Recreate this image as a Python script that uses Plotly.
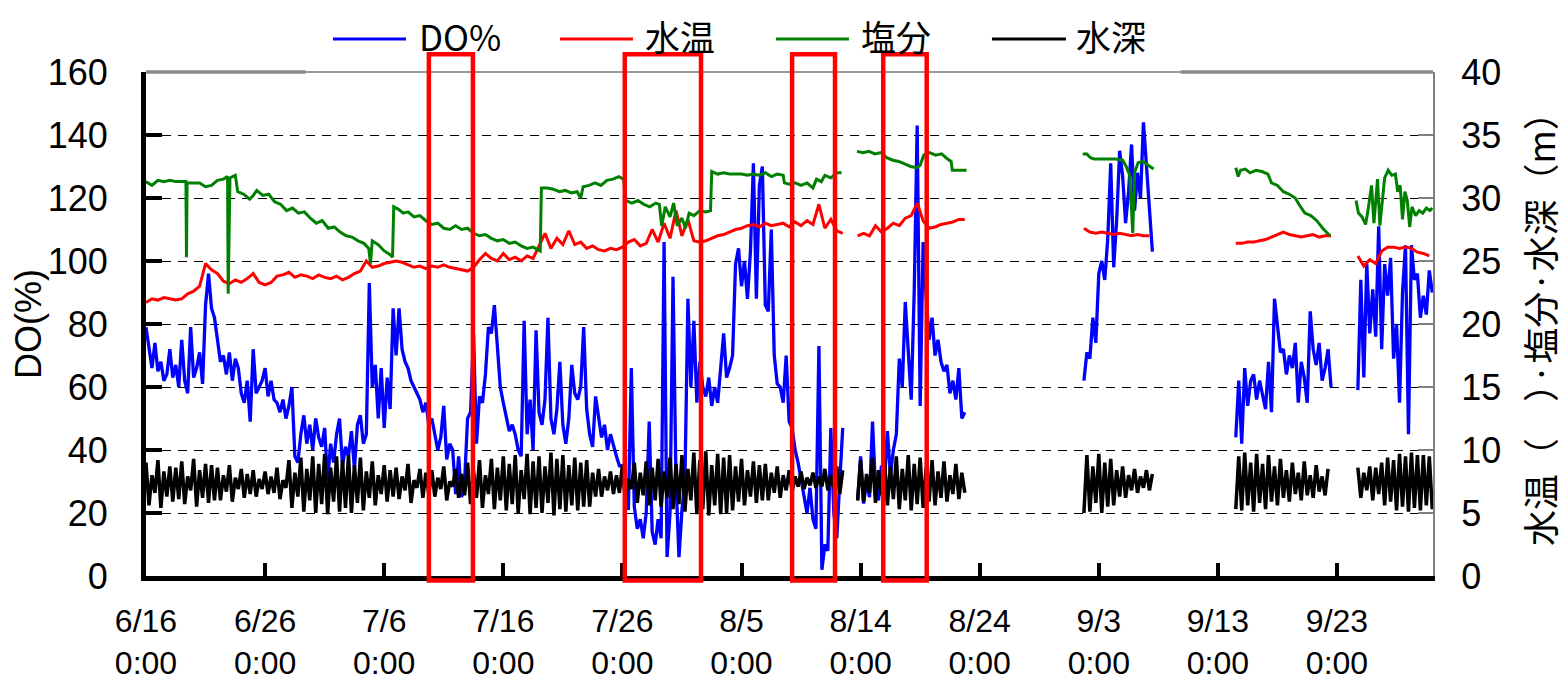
import plotly.graph_objects as go

# ---------------- data ----------------
tick_days = [0, 10, 20, 30, 40, 50, 60, 70, 80, 90, 100]
tick_labels = ["6/16<br>0:00", "6/26<br>0:00", "7/6<br>0:00", "7/16<br>0:00", "7/26<br>0:00",
               "8/5<br>0:00", "8/14<br>0:00", "8/24<br>0:00", "9/3<br>0:00", "9/13<br>0:00",
               "9/23<br>0:00"]

# DO (%) : 6-hourly readings, five recording periods (start day, values)
do_step = 0.25
do_starts = [0.0, 59.75, 78.75, 91.5, 101.75]
do_a = [79, 72, 66, 74, 65, 68, 62, 64, 72, 63, 67, 60, 75, 62, 58, 79,
        63, 66, 71, 61, 86, 96, 85, 82, 75, 68, 70, 64, 71, 62, 69, 66,
        58, 55, 62, 49, 72, 58, 60, 62, 66, 57, 62, 56, 55, 52, 56, 50,
        54, 60, 38, 36, 45, 51, 42, 48, 40, 50, 44, 41, 47, 30, 42, 36,
        45, 50, 35, 41, 38, 46, 34, 48, 51, 42, 45, 93, 60, 67, 50, 66,
        47, 63, 53, 85, 70, 85, 72, 68, 66, 62, 60, 58, 56, 52, 55, 48,
        50, 45, 40, 44, 54, 37, 42, 40, 26, 38, 25, 30, 50, 52, 77, 42,
        57, 55, 64, 79, 77, 86, 72, 60, 55, 51, 46, 48, 45, 40, 38, 81,
        45, 56, 40, 78, 52, 48, 56, 82, 50, 45, 53, 68, 48, 42, 50, 67,
        58, 56, 60, 79, 53, 45, 41, 57, 50, 44, 48, 40, 45, 41, 38, 35,
        35, 24, 21, 66, 22, 15, 18, 12, 20, 49, 14, 10, 18, 12, 106, 6,
        20, 95, 30, 6, 21, 30, 88, 60, 81, 55, 68, 60, 57, 63, 54, 60,
        55, 66, 77, 63, 66, 70, 99, 104, 92, 100, 88, 103, 131, 88, 124, 130,
        86, 84, 110, 70, 61, 60, 55, 70, 49, 47, 40, 36, 31, 25, 20, 28,
        18, 15, 73, 2, 10, 8, 47, 20, 12, 30, 47]
do_b = [24, 38, 23, 30, 25, 49, 28, 24, 35, 30, 46, 32, 40, 45, 69, 60, 87,
        70, 56, 90, 143, 54, 106, 89, 75, 82, 70, 75, 68, 65, 67, 58, 62,
        56, 66, 50, 52]
do_c = [62, 71, 69, 82, 74, 96, 100, 94, 107, 131, 98, 113, 135,
        127, 112, 122, 137, 116, 128, 120, 144, 131, 118, 103]
do_d = [44, 62, 42, 66, 54, 62, 64, 56, 62, 57, 53, 68, 52, 88, 80, 71, 72, 64,
        70, 66, 74, 55, 68, 63, 55, 84, 72, 67, 74, 62, 66, 72, 60]
do_e = [59, 94, 63, 99, 77, 91, 76, 111, 72, 99, 89, 101, 69, 80, 55, 90, 105,
        45, 105, 94, 96, 82, 89, 83, 97, 90]

# 水深 (m) : 6-hourly readings
depth_step = 0.25
depth_starts = [0.0, 59.75, 78.75, 91.5, 101.75]
depth_a = [9.0, 5.6, 8.0, 6.6, 9.2, 5.4, 8.3, 6.3, 8.7, 5.9, 8.6, 6.1, 9.1, 5.7, 7.9, 6.8,
           9.3, 5.5, 8.4, 6.2, 8.9, 5.8, 8.8, 6.0, 8.6, 6.0, 8.0, 6.7, 8.8, 5.9, 7.8, 6.9,
           8.5, 6.2, 8.1, 6.5, 8.4, 6.3, 7.7, 6.9, 8.3, 6.5, 7.9, 6.6, 8.6, 6.1, 7.6, 7.0,
           9.2, 5.4, 8.2, 6.3, 9.4, 5.1, 8.5, 6.0, 9.5, 5.0, 8.9, 5.7, 9.7, 4.9, 8.6, 5.9,
           9.5, 5.1, 9.2, 5.4, 9.6, 5.0, 8.8, 5.8, 9.4, 5.2, 8.3, 6.2, 9.1, 5.6, 8.0, 6.5,
           8.8, 5.9, 8.4, 6.3, 8.6, 6.1, 7.9, 6.8, 8.9, 5.8, 7.6, 7.0, 8.5, 6.2, 8.2, 6.5,
           8.4, 6.3, 7.8, 6.9, 8.7, 6.0, 7.5, 7.1, 8.5, 6.2, 8.1, 6.4, 9.0, 5.7, 8.3, 6.2,
           9.2, 5.4, 8.0, 6.5, 9.3, 5.3, 8.6, 6.0, 9.5, 5.2, 8.9, 5.7, 9.6, 5.0, 8.4, 6.1,
           9.7, 4.9, 9.1, 5.4, 9.5, 5.0, 8.7, 5.8, 9.8, 4.8, 9.3, 5.3, 9.6, 5.1, 8.8, 5.6,
           9.4, 5.2, 9.0, 5.5, 9.2, 5.5, 8.2, 6.3, 8.5, 6.3, 7.9, 6.8, 8.3, 6.5, 8.0, 6.6,
           8.8, 6.0, 7.7, 6.9, 9.0, 5.8, 8.2, 6.4, 9.1, 5.6, 8.6, 6.0, 9.3, 5.5, 8.3, 6.2,
           9.4, 5.3, 8.9, 5.7, 9.6, 5.1, 8.5, 6.0, 9.8, 4.9, 9.2, 5.3, 9.9, 4.8, 8.8, 5.6,
           9.7, 4.9, 9.4, 5.0, 9.6, 5.2, 8.7, 5.9, 9.3, 5.6, 8.4, 6.3, 9.1, 5.8, 8.8, 6.0,
           8.9, 6.0, 8.2, 6.6, 8.7, 6.2, 8.0, 6.8, 8.4, 6.7, 7.9, 7.1, 8.3, 6.9, 7.8, 7.2,
           8.2, 7.0, 7.9, 7.1, 8.5, 6.8, 8.0, 7.0, 8.7, 6.5, 8.4]
depth_b = [6.0, 9.2, 5.9, 8.1, 6.6, 9.4, 5.8, 8.4, 6.4, 9.3, 5.6, 8.7, 6.1,
           9.5, 5.3, 8.5, 6.0, 9.6, 5.2, 8.9, 5.7, 9.4, 5.4, 8.6, 5.9,
           9.2, 5.6, 8.3, 6.2, 9.1, 5.9, 8.0, 6.5, 8.9, 6.1, 8.2, 6.6]
depth_c = [5.0, 9.6, 5.1, 8.7, 5.8, 9.7, 5.0, 9.0, 5.5, 9.3, 5.6, 8.4, 6.3,
           8.7, 6.2, 8.0, 6.8, 8.5, 6.6, 7.9, 7.0, 8.4, 6.8, 8.1]
depth_d = [5.3, 9.5, 5.2, 9.8, 5.6, 9.0, 5.1, 9.7, 5.8, 8.9, 5.3, 9.6, 5.9, 8.7,
           5.6, 9.3, 6.2, 8.4, 5.9, 9.0, 6.5, 8.2, 6.0, 9.1, 6.4, 8.0, 6.2, 8.8,
           6.7, 7.9, 6.4, 8.5]
depth_e = [8.6, 6.2, 8.2, 6.8, 8.7, 6.0, 8.6, 6.5, 9.0, 5.6, 9.4, 5.9, 9.2,
           5.2, 9.7, 5.5, 9.5, 5.1, 9.8, 5.4, 9.6, 5.2, 9.6, 5.6, 9.5, 5.3]

# 水温 (deg C) : 12-hourly readings
temp_step = 0.5
temp_starts = [0.0, 59.75, 78.75, 91.5, 101.75]
temp_a = [21.7, 22.0, 21.9, 22.1, 22.0, 21.9, 22.0, 22.4,
          22.6, 23.0, 24.8, 24.3, 24.0, 23.4, 23.2, 23.5,
          23.3, 23.6, 24.0, 23.3, 23.1, 23.3, 23.8, 23.9,
          24.1, 23.7, 23.9, 23.8, 23.6, 23.9, 23.7, 23.6,
          23.8, 23.5, 23.7, 24.0, 24.2, 25.0, 24.5, 24.6,
          24.8, 24.9, 25.0, 24.9, 24.7, 24.5, 24.6, 24.4,
          24.6, 24.5, 24.7, 24.5, 24.4, 24.3, 24.2, 24.5,
          25.1, 25.6, 25.2, 25.0, 25.6, 25.1, 25.3, 25.0,
          25.4, 25.2, 26.2, 27.2, 26.0, 26.8, 26.3, 27.4,
          26.3, 26.5, 26.0, 26.2, 25.9, 25.8, 26.0, 25.9,
          26.1, 26.5, 26.7, 26.2, 26.4, 27.5, 26.5, 28.0,
          26.8, 29.0, 27.0, 28.3, 26.6, 26.5, 26.6, 26.8,
          27.0, 27.1, 27.3, 27.5, 27.6, 27.8, 27.9, 27.7,
          28.0, 27.8, 27.9, 28.0, 27.7, 28.1, 27.8, 28.2,
          27.9, 29.5, 27.6, 28.3, 27.4, 27.2]
temp_b = [27.0, 27.2, 27.0, 27.8, 27.3, 27.6, 28.0, 27.8, 28.4, 28.6, 29.6, 28.2,
          27.6, 27.7, 27.9, 28.0, 28.1, 28.3, 28.3]
temp_c = [27.6, 27.3, 27.2, 27.3, 27.2, 27.1, 27.2, 27.1, 27.0, 27.1, 27.0, 27.0]
temp_d = [26.4, 26.4, 26.5, 26.5, 26.6, 26.7, 26.9, 27.1, 27.3, 27.1, 27.0, 26.9,
          27.0, 27.1, 26.9, 27.0, 27.0]
temp_e = [25.4, 24.6, 25.1, 24.8, 25.8, 26.1, 26.1, 26.0, 26.1, 26.0, 25.7, 25.6, 25.4]

# 塩分 : irregular readings (day, value) per recording period
sal_a_days = [0.0, 0.5, 1.0, 1.5, 2.0, 2.5, 3.35, 3.4, 3.45, 4.0, 4.5, 5.0, 5.5, 6.0, 6.5,
              6.85, 6.9, 7.05, 7.5, 7.7, 8.2, 8.7, 9.0, 9.3, 9.8, 10.3, 10.8, 11.3, 11.8,
              12.3, 12.8, 13.3, 13.8, 14.3, 14.8, 15.3, 15.8, 16.3, 16.8, 17.3, 17.8, 18.3,
              18.7, 18.85, 19.0, 19.5, 20.0, 20.5, 20.7, 20.8, 21.2, 21.6, 22.0, 22.5, 23.0,
              23.5, 24.0, 24.5, 25.0, 25.5, 26.0, 26.5, 27.0, 27.5, 28.0, 28.5, 29.0, 29.5,
              30.0, 30.5, 31.0, 31.5, 32.0, 32.5, 33.1, 33.2, 33.7, 34.2, 34.7, 35.2, 35.7,
              36.2, 36.5, 36.7, 37.2, 37.7, 38.2, 38.7, 39.2, 39.7, 40.1, 40.3, 40.8, 41.3,
              41.8, 42.3, 42.8, 43.1, 43.3, 43.6, 44.0, 44.3, 44.6, 45.0, 45.3, 45.6, 46.0,
              46.5, 47.0, 47.4, 47.5, 48.0, 48.5, 49.0, 49.5, 50.0, 50.5, 51.0, 51.5, 52.0,
              52.5, 53.0, 53.5, 53.6, 54.0, 54.5, 55.0, 55.5, 56.0, 56.3, 56.7, 57.0, 57.5,
              58.0, 58.4]
sal_a = [31.3, 31.0, 31.4, 31.3, 31.4, 31.3, 31.3, 25.3, 31.2, 31.2, 31.2, 30.9, 31.0, 31.4, 31.5,
         31.7, 22.4, 31.6, 31.8, 30.5, 30.3, 29.9, 30.2, 30.6, 30.2, 30.3, 29.7, 29.5, 29.0,
         29.2, 28.8, 28.9, 28.4, 28.0, 28.2, 27.6, 27.7, 27.3, 27.0, 26.9, 26.6, 26.4,
         26.0, 24.8, 26.6, 26.3, 25.8, 25.5, 25.3, 29.3, 29.1, 28.8, 28.9, 28.5, 28.6,
         28.2, 27.9, 28.0, 27.6, 27.5, 27.8, 27.5, 27.6, 27.2, 27.0, 27.1, 26.8, 26.6,
         26.7, 26.4, 26.5, 26.2, 26.0, 26.1, 25.8, 30.8, 30.8, 30.7, 30.5, 30.6, 30.4,
         30.5, 30.0, 30.9, 31.0, 31.2, 31.0, 31.4, 31.5, 31.7, 31.5, 29.8, 29.6, 29.8,
         29.5, 29.3, 29.6, 29.5, 27.8, 29.3, 28.5, 29.6, 27.8, 28.4, 27.6, 28.8, 28.6,
         29.0, 28.9, 29.0, 32.1, 31.9, 32.0, 31.9, 31.9, 31.9, 31.8, 31.9, 31.8, 32.0,
         31.7, 31.9, 31.8, 31.2, 31.1, 31.2, 31.0, 31.2, 30.8, 31.5, 31.3, 31.8, 31.6,
         32.0, 32.0]
sal_b_days = [59.7, 60.2, 60.7, 61.2, 61.7, 62.2, 62.7, 63.2, 63.7, 64.2, 64.7, 65.0, 65.3,
              65.8, 66.3, 66.8, 67.3, 67.6, 67.7, 68.3, 68.9]
sal_b = [33.7, 33.6, 33.7, 33.5, 33.6, 33.2, 33.0, 32.9, 32.7, 32.5, 32.4, 32.6, 33.4,
         33.6, 33.4, 33.5, 33.1, 32.9, 32.2, 32.2, 32.2]
sal_c_days = [78.65, 79.0, 79.3, 79.6, 80.2, 80.8, 81.4, 82.0, 82.3, 82.6, 82.85, 83.0,
              83.3, 83.7, 84.1, 84.6]
sal_c = [33.5, 33.5, 33.2, 33.1, 33.1, 33.1, 33.1, 33.0, 32.5, 31.8, 27.2, 32.0,
         32.8, 32.9, 32.6, 32.3]
sal_d_days = [91.5, 91.7, 91.9, 92.3, 92.7, 93.2, 93.7, 94.2, 94.5, 95.0, 95.5, 96.0, 96.5,
              96.8, 97.3, 97.8, 98.3, 98.8, 99.4]
sal_d = [32.4, 31.7, 32.2, 32.3, 32.0, 32.2, 32.1, 31.9, 31.2, 31.0, 30.5, 30.3, 30.0,
         29.5, 28.8, 28.6, 28.2, 27.6, 27.0]
sal_e_days = [101.6, 101.8, 102.1, 102.4, 102.6, 102.9, 103.1, 103.4, 103.6, 104.0, 104.3,
              104.6, 104.9, 105.1, 105.3, 105.5, 105.7, 105.9, 106.1, 106.3, 106.6, 106.9,
              107.2, 107.5, 107.8, 108.0]
sal_e = [29.8, 28.8, 28.5, 27.9, 29.0, 31.0, 28.0, 31.5, 27.8, 31.6, 32.2,
         31.8, 31.9, 30.5, 31.0, 28.3, 30.5, 29.8, 27.7, 29.3, 28.6, 29.0,
         28.8, 29.2, 29.0, 29.2]

# highlighted periods (red frames), in days from 6/16
highlight_periods = [(23.75, 27.45), (40.2, 46.6), (54.25, 57.85), (61.9, 65.55)]


# ---------------- helpers ----------------
def regular(starts, segments, step):
    xs, ys = [], []
    for s, vals in zip(starts, segments):
        xs += [s + i * step for i in range(len(vals))] + [None]
        ys += list(vals) + [None]
    return xs, ys


def irregular(day_lists, val_lists):
    xs, ys = [], []
    for d, v in zip(day_lists, val_lists):
        xs += list(d) + [None]
        ys += list(v) + [None]
    return xs, ys


do_x, do_y = regular(do_starts, [do_a, do_b, do_c, do_d, do_e], do_step)
dep_x, dep_y = regular(depth_starts, [depth_a, depth_b, depth_c, depth_d, depth_e], depth_step)
tmp_x, tmp_y = regular(temp_starts, [temp_a, temp_b, temp_c, temp_d, temp_e], temp_step)
sal_x, sal_y = irregular([sal_a_days, sal_b_days, sal_c_days, sal_d_days, sal_e_days],
                         [sal_a, sal_b, sal_c, sal_d, sal_e])

LAT = "Liberation Sans, Arial, Noto Sans CJK JP, sans-serif"
CJK = "Noto Sans CJK JP, Liberation Sans, sans-serif"

fig = go.Figure()
# primary (left) axis
fig.add_trace(go.Scatter(x=do_x, y=do_y, mode="lines", name="DO%", yaxis="y",
                         line=dict(color="#0000FF", width=3.3), connectgaps=False))
# secondary (right) axis, drawn above
fig.add_trace(go.Scatter(x=tmp_x, y=tmp_y, mode="lines", name="水温", yaxis="y2",
                         line=dict(color="#FF0000", width=3), connectgaps=False))
fig.add_trace(go.Scatter(x=sal_x, y=sal_y, mode="lines", name="塩分", yaxis="y2",
                         line=dict(color="#008000", width=3), connectgaps=False))
fig.add_trace(go.Scatter(x=dep_x, y=dep_y, mode="lines", name="水深", yaxis="y2",
                         line=dict(color="#000000", width=3.5), connectgaps=False))

shapes = []
# top border (gray)
shapes.append(dict(type="line", xref="paper", yref="paper", x0=0, x1=1, y0=1, y1=1,
                   line=dict(color="#999999", width=2)))
shapes.append(dict(type="line", xref="paper", yref="paper", x0=0, x1=0.124, y0=1, y1=1,
                   line=dict(color="#8a8a8a", width=3.5)))
shapes.append(dict(type="line", xref="paper", yref="paper", x0=0.804, x1=1, y0=1, y1=1,
                   line=dict(color="#8a8a8a", width=3.5)))
for (a, b) in highlight_periods:
    shapes.append(dict(type="rect", xref="x", yref="paper", x0=a, x1=b, y0=-0.009, y1=1.035,
                       line=dict(color="#FF0000", width=4.5), fillcolor="rgba(0,0,0,0)"))

# manual legend (long line samples)
legend_items = [("DO%", "#0000FF"), ("水温", "#FF0000"), ("塩分", "#008000"), ("水深", "#000000")]
legend_line_x = [(0.1453, 0.2020), (0.3217, 0.3784), (0.4895, 0.5462), (0.6573, 0.7148)]
legend_text_x = [0.2113, 0.3870, 0.5548, 0.7218]
line_y = 1.0655
text_top_y = 1.125
annotations = []
for (name, col), (x0, x1), tx in zip(legend_items, legend_line_x, legend_text_x):
    shapes.append(dict(type="line", xref="paper", yref="paper", x0=x0, x1=x1,
                       y0=line_y, y1=line_y, line=dict(color=col, width=3)))
    annotations.append(dict(xref="paper", yref="paper", x=tx, y=text_top_y, text=name,
                            showarrow=False, xanchor="left", yanchor="top", borderpad=0,
                            font=dict(family=CJK, size=35, color="black")))

# right-axis title (placed as rotated text for exact position)
annotations.append(dict(xref="paper", yref="paper", x=1.0824, y=0.508,
                        text="水温（　）·塩分·水深（m）", textangle=-90, showarrow=False,
                        xanchor="center", yanchor="middle",
                        font=dict(family=CJK, size=36, color="black")))

fig.update_layout(
    width=1560, height=679,
    margin=dict(l=138, r=135, t=64, b=111, autoexpand=False),
    paper_bgcolor="white", plot_bgcolor="white",
    showlegend=False,
    font=dict(family=LAT, color="black"),
    shapes=shapes, annotations=annotations,
    xaxis=dict(range=[0, 108.06], tickmode="array", tickvals=tick_days, ticktext=tick_labels,
               showgrid=False, zeroline=False, showline=True, linecolor="black", linewidth=5,
               ticks="inside", ticklen=13, tickwidth=4, tickcolor="black", automargin=False,
               tickfont=dict(family=LAT, size=32, color="black"), ticklabelstandoff=13),
    yaxis=dict(side="left", range=[0, 160], tick0=0, dtick=20,
               showline=True, linecolor="black", linewidth=5,
               ticks="inside", ticklen=16, tickwidth=4, tickcolor="black",
               showgrid=True, gridcolor="black", gridwidth=1.3, griddash="9px,7px",
               zeroline=False, automargin=False,
               tickfont=dict(family=LAT, size=36, color="black"), ticklabelstandoff=26,
               title=dict(text="DO(%)", font=dict(family=LAT, size=36, color="black"),
                          standoff=0)),
    yaxis2=dict(overlaying="y", side="right", range=[0, 40], tick0=0, dtick=5,
                showline=True, linecolor="#808080", linewidth=2,
                ticks="inside", ticklen=15, tickwidth=2, tickcolor="#808080",
                showgrid=False, zeroline=False, automargin=False,
                tickfont=dict(family=LAT, size=36, color="black"), ticklabelstandoff=19),
)

fig.write_html("out.html")
